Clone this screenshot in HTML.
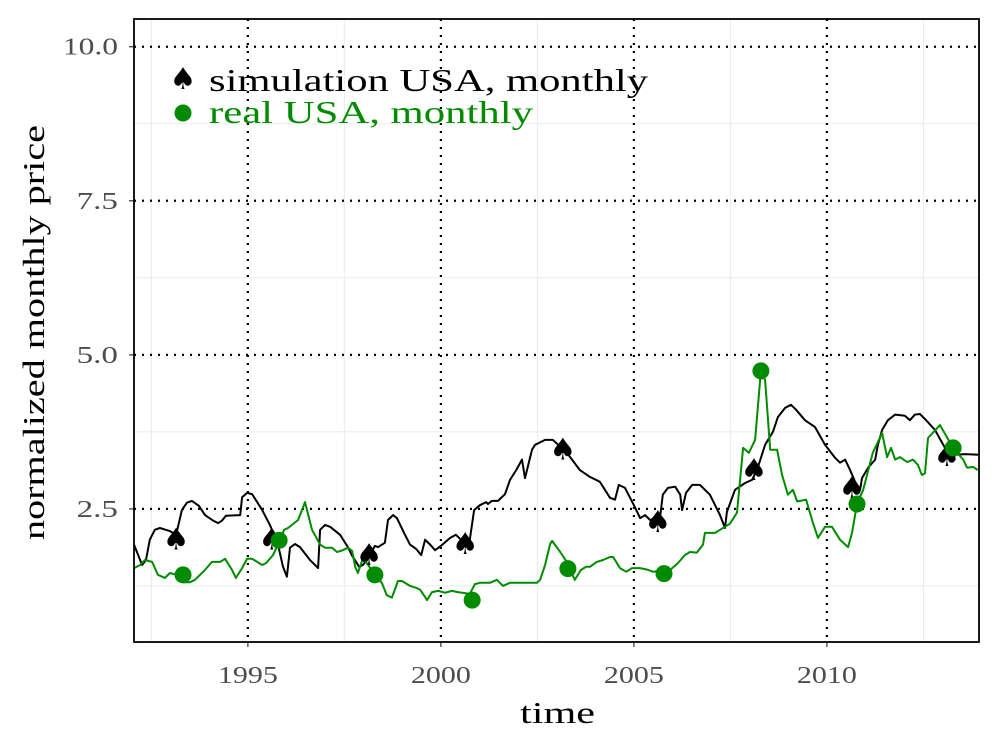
<!DOCTYPE html>
<html><head><meta charset="utf-8"><style>
body{margin:0;background:#fff;}
svg text{font-family:"Liberation Serif",serif;}
.sp{font-family:"DejaVu Sans",sans-serif;}
</style></head><body>
<svg id="chart" width="1000" height="750" viewBox="0 0 1000 750" xmlns="http://www.w3.org/2000/svg">
<rect width="1000" height="750" fill="#fff"/>
<g id="grid"></g><g id="series"></g><g id="markers"></g><g id="axes"></g>
<g>
<text x="183" y="89" font-size="30" text-anchor="middle" class="sp">♠</text>
<text x="209" y="91" font-size="32" fill="#000" textLength="439" lengthAdjust="spacingAndGlyphs">simulation USA, monthly</text>
<circle cx="183" cy="113" r="8.5" fill="#008b00"/>
<text x="209" y="123" font-size="32" fill="#008b00" textLength="324" lengthAdjust="spacingAndGlyphs">real USA, monthly</text>
</g>
<text x="520" y="723" font-size="31" textLength="75" lengthAdjust="spacingAndGlyphs">time</text>
<text transform="translate(44,540) rotate(-90)" font-size="31" textLength="415" lengthAdjust="spacingAndGlyphs">normalized monthly price</text>
</svg>
<script>
const simYears=[1992.05,1992.26,1992.36,1992.46,1992.59,1992.72,1992.98,1993.14,1993.29,1993.42,1993.55,1993.73,1993.89,1994.10,1994.23,1994.33,1994.43,1994.80,1994.85,1994.98,1995.11,1995.37,1995.57,1995.78,1995.91,1996.01,1996.09,1996.22,1996.35,1996.51,1996.61,1996.82,1996.87,1997.00,1997.13,1997.39,1997.59,1997.70,1997.88,1997.98,1998.09,1998.29,1998.37,1998.55,1998.63,1998.76,1998.86,1999.07,1999.20,1999.36,1999.49,1999.59,1999.72,1999.85,2000.00,2000.24,2000.39,2000.52,2000.75,2000.86,2001.01,2001.17,2001.22,2001.32,2001.48,2001.66,2001.79,2001.95,2002.10,2002.18,2002.36,2002.44,2002.70,2002.90,2003.09,2003.24,2003.60,2003.86,2004.12,2004.38,2004.51,2004.61,2004.77,2005.00,2005.16,2005.29,2005.42,2005.68,2005.75,2005.88,2006.07,2006.20,2006.25,2006.35,2006.51,2006.71,2006.97,2007.23,2007.36,2007.41,2007.62,2007.88,2008.06,2008.19,2008.40,2008.60,2008.73,2008.92,2009.07,2009.20,2009.43,2009.69,2009.95,2010.21,2010.34,2010.47,2010.60,2010.73,2010.86,2010.91,2011.07,2011.25,2011.32,2011.43,2011.58,2011.77,2012.02,2012.15,2012.28,2012.41,2012.57,2012.80,2013.06,2013.32,2013.58,2013.94];
const simValues=[1.92,1.59,1.67,2.00,2.16,2.19,2.14,2.08,2.48,2.60,2.63,2.55,2.40,2.31,2.27,2.31,2.39,2.40,2.69,2.76,2.74,2.48,2.24,1.92,1.56,1.40,1.87,1.93,1.88,1.75,1.67,1.54,2.16,2.24,2.21,2.08,1.88,1.74,1.56,1.59,1.67,1.90,1.88,1.95,2.32,2.40,2.35,2.08,1.92,1.85,1.75,2.00,1.92,1.83,1.90,2.03,2.08,2.00,2.00,2.48,2.56,2.61,2.58,2.63,2.63,2.74,2.97,3.13,3.30,3.00,3.46,3.54,3.62,3.62,3.51,3.43,3.13,3.02,2.94,2.68,2.65,2.89,2.84,2.56,2.35,2.40,2.32,2.37,2.73,2.84,2.86,2.73,2.48,2.76,2.89,2.89,2.73,2.40,2.19,2.45,2.81,2.92,2.97,3.13,3.54,3.75,3.99,4.14,4.19,4.11,3.94,3.83,3.54,3.33,3.25,3.30,3.13,2.94,2.81,3.00,3.17,3.30,3.54,3.78,3.94,4.03,4.01,3.94,4.03,4.04,3.94,3.78,3.49,3.38,3.39,3.38];
const realYears=[1992.05,1992.21,1992.33,1992.52,1992.67,1992.85,1992.98,1993.16,1993.32,1993.50,1993.63,1993.89,1994.07,1994.28,1994.41,1994.59,1994.69,1994.85,1994.98,1995.11,1995.37,1995.47,1995.65,1995.78,1995.94,1996.04,1996.14,1996.30,1996.48,1996.66,1996.87,1997.00,1997.18,1997.31,1997.46,1997.59,1997.70,1997.78,1997.85,1997.96,1998.06,1998.29,1998.47,1998.60,1998.73,1998.89,1998.99,1999.20,1999.36,1999.46,1999.59,1999.64,1999.77,1999.93,2000.11,2000.29,2000.44,2000.75,2000.88,2001.01,2001.27,2001.45,2001.61,2001.79,2002.18,2002.49,2002.57,2002.70,2002.83,2002.88,2003.09,2003.24,2003.47,2003.63,2003.76,2003.86,2004.04,2004.20,2004.38,2004.46,2004.64,2004.80,2004.95,2005.16,2005.37,2005.50,2005.94,2006.14,2006.32,2006.45,2006.63,2006.79,2006.84,2007.10,2007.23,2007.49,2007.67,2007.83,2007.98,2008.14,2008.29,2008.40,2008.53,2008.71,2008.84,2008.99,2009.12,2009.23,2009.46,2009.64,2009.77,2009.95,2010.13,2010.21,2010.34,2010.55,2010.65,2010.78,2010.94,2011.19,2011.43,2011.56,2011.66,2011.77,2011.89,2012.08,2012.23,2012.36,2012.46,2012.54,2012.62,2012.93,2013.27,2013.53,2013.63,2013.79,2013.91];
const realValues=[1.54,1.59,1.67,1.64,1.43,1.38,1.46,1.43,1.31,1.31,1.35,1.51,1.64,1.64,1.69,1.51,1.38,1.54,1.69,1.69,1.59,1.62,1.75,1.92,2.16,2.19,2.24,2.32,2.61,2.16,1.92,1.87,1.87,1.80,1.83,1.87,1.82,1.56,1.46,1.66,1.64,1.43,1.30,1.10,1.06,1.33,1.33,1.25,1.22,1.19,1.07,1.02,1.15,1.17,1.14,1.17,1.15,1.12,1.28,1.30,1.30,1.35,1.25,1.30,1.30,1.30,1.35,1.59,1.93,1.98,1.80,1.66,1.35,1.51,1.56,1.56,1.64,1.67,1.72,1.72,1.54,1.48,1.54,1.54,1.51,1.48,1.51,1.62,1.75,1.80,1.79,1.92,2.11,2.11,2.16,2.26,2.44,3.49,3.41,3.62,4.74,4.59,3.46,3.46,3.05,2.73,2.81,2.62,2.65,2.27,2.03,2.21,2.21,2.13,2.00,1.88,2.11,2.58,2.81,3.41,3.73,3.34,3.49,3.30,3.34,3.26,3.30,3.21,3.05,3.08,3.65,3.86,3.49,3.30,3.17,3.18,3.13];
const simMarkYears=[1993.14,1995.62,1998.14,2000.63,2003.16,2005.62,2008.11,2010.65,2013.11];
const simMarkValues=[2.00,2.00,1.75,1.93,3.46,2.29,3.13,2.84,3.36];
const realMarkYears=[1993.32,1995.81,1998.29,2000.81,2003.29,2005.78,2008.29,2010.78,2013.27];
const realMarkValues=[1.43,1.99,1.43,1.02,1.53,1.45,4.74,2.58,3.49];
const yTicks=[2.5,5.0,7.5,10.0];
const yTickLabels=["2.5","5.0","7.5","10.0"];
const xTicks=[1995,2000,2005,2010];
const xTickLabels=["1995","2000","2005","2010"];

const L=134,R=979,T=19,B=642;
const X0=1992.05,X1=2013.94,Y0=0.34,Y1=10.45;
const sx=v=>L+(v-X0)/(X1-X0)*(R-L);
const sy=v=>B-(v-Y0)/(Y1-Y0)*(B-T);
const NS="http://www.w3.org/2000/svg";
function mk(tag,parent,attrs){const e=document.createElementNS(NS,tag);for(const k in attrs)e.setAttribute(k,attrs[k]);parent.appendChild(e);return e;}
const grid=document.getElementById('grid'),series=document.getElementById('series'),markers=document.getElementById('markers'),axes=document.getElementById('axes');

[1.25,3.75,6.25,8.75].forEach(v=>{const l=mk('line',grid,{x1:L,x2:R,y1:sy(v),y2:sy(v),stroke:'#ebebeb','stroke-width':1});

});
[1992.5,1997.5,2002.5,2007.5,2012.5].forEach(v=>{const l=mk('line',grid,{x1:sx(v),x2:sx(v),y1:T,y2:B,stroke:'#ebebeb','stroke-width':1});

});
yTicks.forEach((v,i)=>{const l=mk('line',grid,{x1:L,x2:R,y1:sy(v),y2:sy(v),stroke:'#000','stroke-width':2.2,'stroke-dasharray':'2 6'});


mk('line',axes,{x1:L-5,x2:L,y1:sy(v),y2:sy(v),stroke:'#333','stroke-width':1.2});
const t=mk('text',axes,{x:L-16,y:sy(v)+8,'font-size':24,'text-anchor':'end',fill:'#4d4d4d',textLength:yTickLabels[i].length*13.8,lengthAdjust:'spacingAndGlyphs'});t.textContent=yTickLabels[i];

});
xTicks.forEach((v,i)=>{const l=mk('line',grid,{x1:sx(v),x2:sx(v),y1:T,y2:B,stroke:'#000','stroke-width':2.2,'stroke-dasharray':'2 6'});


mk('line',axes,{x1:sx(v),x2:sx(v),y1:B,y2:B+5,stroke:'#333','stroke-width':1.2});
const t=mk('text',axes,{x:sx(v)-30,y:B+41,'font-size':24,fill:'#4d4d4d',textLength:60,lengthAdjust:'spacingAndGlyphs'});t.textContent=xTickLabels[i];

});

const sim=mk('path',series,{d:simYears.map((y,i)=>(i?'L':'M')+sx(y).toFixed(1)+','+sy(simValues[i]).toFixed(1)).join(''),fill:'none',stroke:'#000','stroke-width':2,'stroke-linejoin':'round'});


const real=mk('path',series,{d:realYears.map((y,i)=>(i?'L':'M')+sx(y).toFixed(1)+','+sy(realValues[i]).toFixed(1)).join(''),fill:'none',stroke:'#008b00','stroke-width':2,'stroke-linejoin':'round'});



simMarkYears.forEach((y,i)=>{const t=mk('text',markers,{x:sx(y),y:sy(simMarkValues[i])+10,'font-size':30,'text-anchor':'middle',fill:'#000','class':'sp'});t.textContent='♠';

});
realMarkYears.forEach((y,i)=>{const c=mk('circle',markers,{cx:sx(y),cy:sy(realMarkValues[i]),r:8.5,fill:'#008b00'});

});

const frame=mk('rect',axes,{x:L,y:T,width:R-L,height:B-T,fill:'none',stroke:'#000','stroke-width':1.8});


</script>
</body></html>
